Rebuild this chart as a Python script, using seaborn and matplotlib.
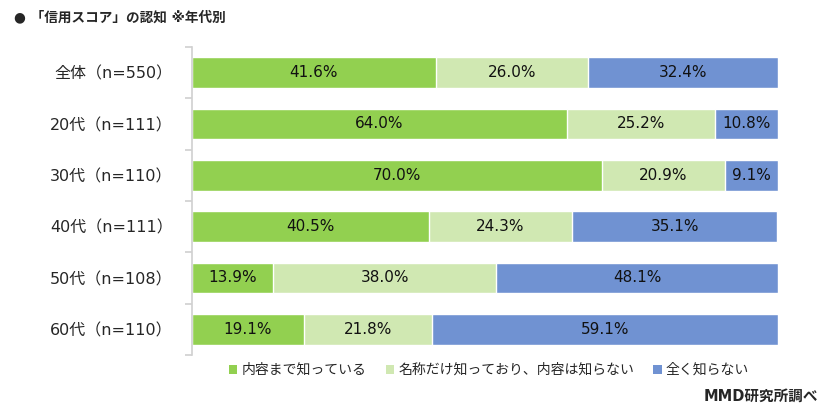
import numpy as np
import pandas as pd
import matplotlib
matplotlib.use("Agg")
import matplotlib.pyplot as plt
import seaborn as sns
from matplotlib.patches import Patch
from matplotlib.ticker import FixedLocator

groups = ["全体（n=550）", "20代（n=111）", "30代（n=110）", "40代（n=111）", "50代（n=108）", "60代（n=110）"]
know_content = [41.6, 64.0, 70.0, 40.5, 13.9, 19.1]
know_name = [26.0, 25.2, 20.9, 24.3, 38.0, 21.8]
not_know = [32.4, 10.8, 9.1, 35.1, 48.1, 59.1]
series_names = ["内容まで知っている", "名称だけ知っており、内容は知らない", "全く知らない"]
colors = ["#92D050", "#D0E8B2", "#7092D2"]

sns.set_theme(style="white")
plt.rcParams["font.family"] = ["DejaVu Sans", "Noto Sans CJK JP"]

df = pd.DataFrame({"group": groups, "a": know_content, "b": know_name, "c": not_know})
df["ab"] = df["a"] + df["b"]
df["abc"] = df["ab"] + df["c"]

fig = plt.figure(figsize=(8.4, 4.13), dpi=100)
ax = fig.add_axes([192 / 840, 1 - 355 / 413, (778 - 192) / 840, (355 - 47) / 413])

# stacked bars drawn back to front
for col, color in zip(["abc", "ab", "a"], colors[::-1]):
    sns.barplot(data=df, x=col, y="group", color=color, width=0.6,
                saturation=1, ax=ax, orient="h", edgecolor="white", linewidth=1)

# segment labels
for i in range(len(groups)):
    starts = [0, know_content[i], know_content[i] + know_name[i]]
    vals = [know_content[i], know_name[i], not_know[i]]
    for s, v in zip(starts, vals):
        ax.text(s + v / 2, i, f"{v:.1f}%", ha="center", va="center",
                fontsize=11, color="#111111")

ax.set_xlim(0, 100)
ax.set_ylim(len(groups) - 0.5, -0.5)
ax.set_xlabel("")
ax.set_ylabel("")
ax.set_xticks([])
for sp in ["top", "right", "bottom"]:
    ax.spines[sp].set_visible(False)
ax.spines["left"].set_color("#D0D0D0")
ax.spines["left"].set_linewidth(1.2)
ax.tick_params(axis="y", which="major", length=0, pad=14, labelsize=11.5)
ax.yaxis.set_minor_locator(FixedLocator(np.arange(-0.5, len(groups), 1)))
ax.tick_params(axis="y", which="minor", left=True, length=5, color="#D0D0D0", width=1.2)

handles = [Patch(facecolor=c, edgecolor="none") for c in colors]
fig.legend(handles, series_names, loc="center", bbox_to_anchor=(489 / 840, 1 - 370 / 413),
           ncol=3, frameon=False, fontsize=10, handlelength=0.6, handleheight=0.6,
           handletextpad=0.3, columnspacing=1.4)

fig.text(14 / 840, 1 - 17 / 413, "● 「信用スコア」の認知 ※年代別", fontsize=9.8,
         fontweight="bold", va="center", ha="left")
fig.text(818 / 840, 1 - 396 / 413, "MMD研究所調べ", fontsize=10.5,
         fontweight="bold", va="center", ha="right")

fig.savefig("out.png", dpi=100)
